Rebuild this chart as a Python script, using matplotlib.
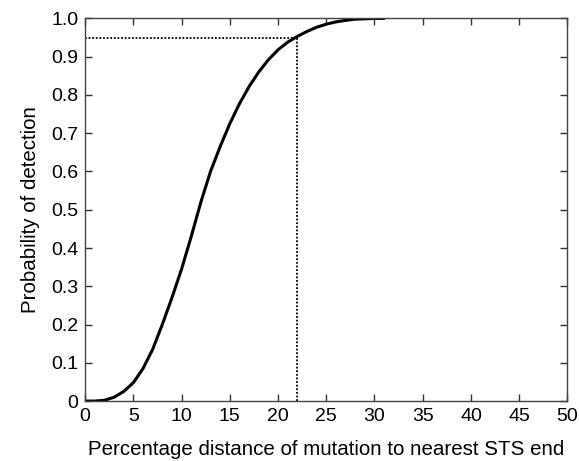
import numpy as np
import matplotlib.pyplot as plt

plt.rcParams['font.family'] = ['Liberation Sans', 'DejaVu Sans']

# valores
distancia = [0, 1, 2, 3, 4, 5, 6, 7, 8, 9, 10, 11, 12, 13, 14, 15, 16, 17, 18, 19,
             20, 21, 22, 23, 24, 25, 26, 27, 28, 29, 30, 31]
prob_deteccion = [0, 0, 0.002, 0.01, 0.025, 0.048, 0.085, 0.135, 0.20, 0.27, 0.345, 0.43,
                  0.52, 0.60, 0.665, 0.725, 0.777, 0.822, 0.86, 0.892, 0.918, 0.938,
                  0.953, 0.966, 0.977, 0.985, 0.991, 0.995, 0.998, 0.999, 1.0, 1.0]
corte_x = 22
corte_y = 0.95

xticks = list(range(0, 51, 5))
yticks = [0, 0.1, 0.2, 0.3, 0.4, 0.5, 0.6, 0.7, 0.8, 0.9, 1.0]
ytick_labels = ['0', '0.1', '0.2', '0.3', '0.4', '0.5', '0.6', '0.7', '0.8', '0.9', '1.0']

fig = plt.figure(figsize=(5.79, 4.61), dpi=100)
ax = fig.add_axes([0.147, 0.130, 0.833, 0.830])

ax.plot(distancia, prob_deteccion, color='black', lw=2.2, solid_joinstyle='round',
        solid_capstyle='round')
ax.plot([0, corte_x], [corte_y, corte_y], color='black', lw=1.3, ls=(0, (1, 1)))
ax.plot([corte_x, corte_x], [0, corte_y], color='black', lw=1.3, ls=(0, (1, 1)))

ax.set_xlim(0, 50)
ax.set_ylim(0, 1.0)
ax.set_xticks(xticks)
ax.set_yticks(yticks)
ax.set_yticklabels(ytick_labels)
ax.tick_params(direction='in', top=True, right=True, length=5, width=1,
               labelsize=14, pad=5, colors='#333333', labelcolor='black')
for s in ax.spines.values():
    s.set_color('#444444')
    s.set_linewidth(1.0)

ax.set_xlabel('Percentage distance of mutation to nearest STS end', fontsize=14.8, labelpad=11)
ax.set_ylabel('Probability of detection', fontsize=14.8, labelpad=8)

fig.savefig('out.png', dpi=100)
